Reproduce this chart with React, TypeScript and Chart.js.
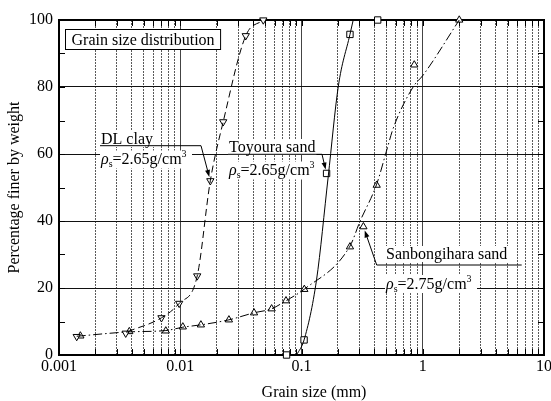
import React, { useEffect, useRef } from 'react';
import { Chart, registerables } from 'chart.js';

Chart.register(...registerables);

const FONT = "'Liberation Serif', 'Times New Roman', Times, serif";

// ---- data: markers ----
const dlClayX = [0.0014, 0.00355, 0.0070, 0.0098, 0.0138, 0.0177, 0.0226, 0.0347, 0.0484];
const dlClayY = [5.5, 6.5, 11.1, 15.4, 23.6, 52, 69.6, 95.3, 100];
const sanX = [0.0015, 0.0038, 0.0076, 0.0105, 0.0148, 0.0252, 0.0406, 0.0567, 0.0745, 0.1055, 0.251, 0.324, 0.417, 0.851, 2.0];
const sanY = [5.7, 7.0, 7.2, 8.4, 9.0, 10.5, 12.6, 13.8, 16.2, 19.6, 32.3, 38.3, 50.7, 86.6, 100];
const toyX = [0.0753, 0.105, 0.161, 0.251, 0.425];
const toyY = [0, 4.5, 54.2, 95.7, 100];

// ---- data: fitted curves ----
const dlCurveX = [0.0037, 0.0070, 0.0098, 0.0138, 0.0177, 0.0226, 0.0347, 0.0484];
const dlCurveY = [7.0, 11.1, 15.4, 23.6, 52, 69.6, 95.3, 100];
const sanCurveX = [0.0014, 0.0038, 0.0076, 0.0105, 0.0148, 0.0252, 0.0406, 0.0567, 0.0745, 0.105, 0.251, 0.303, 0.417, 0.505, 0.571, 0.836, 1.01, 2.0];
const sanCurveY = [5.6, 6.9, 7.3, 8.3, 9.0, 10.5, 12.6, 13.8, 16.2, 19.6, 32.5, 39.8, 51, 61.2, 67.7, 80.1, 83.6, 100];
const toyCurveX = [0.0912, 0.105, 0.133, 0.166, 0.201, 0.251, 0.267];
const toyCurveY = [0, 4.5, 22.4, 53.2, 80.1, 95.7, 100];

// ---- ticks ----
const xDecades = [0.001, 0.01, 0.1, 1, 10];
const xTickLabels = ['0.001', '0.01', '0.1', '1', '10'];
const yTickValues = [0, 20, 40, 60, 80, 100];
const yMinorTicks = [10, 30, 50, 70, 90];

const isDecade = (v: number) => Math.abs(Math.log10(v) - Math.round(Math.log10(v))) < 1e-6;
const xTickValues: number[] = [];
for (let d = 0; d < xDecades.length - 1; d++) {
  for (let m = 1; m <= 9; m++) xTickValues.push(Number((m * xDecades[d]).toPrecision(6)));
}
xTickValues.push(xDecades[xDecades.length - 1]);

const pts = (xs: number[], ys: number[]) => xs.map((v, i) => ({ x: v, y: ys[i] }));

type Seg = { t: string; italic?: boolean; size: number; dy?: number };
function drawRich(ctx: CanvasRenderingContext2D, segs: Seg[], x: number, y: number) {
  let cx = x;
  for (const s of segs) {
    ctx.font = `${s.italic ? 'italic ' : ''}${s.size}px ${FONT}`;
    ctx.fillText(s.t, cx, y + (s.dy || 0));
    cx += ctx.measureText(s.t).width;
  }
  return cx - x;
}
const rhoSegs = (val: string): Seg[] => [
  { t: 'ρ', italic: true, size: 16 },
  { t: 's', size: 10, dy: 3 },
  { t: '=' + val + 'g/cm', size: 16 },
  { t: '3', size: 10, dy: -7 },
];

const callouts = [
  { name: 'DL clay', rho: '2.65', textX: 101, nameBase: 143.5, rhoBase: 164, lineY: 145.7, lineX0: 100, lineX1: 201, target: [0.0177, 52] },
  { name: 'Toyoura sand', rho: '2.65', textX: 229, nameBase: 151.5, rhoBase: 175, lineY: 154.3, lineX0: 228, lineX1: 322, target: [0.161, 54.2] },
  { name: 'Sanbongihara sand', rho: '2.75', textX: 386, nameBase: 258.5, rhoBase: 288.5, lineY: 265, lineX0: 376.7, lineX1: 521.7, target: [0.324, 38.3], from0: true },
];

function arrow(ctx: CanvasRenderingContext2D, x0: number, y0: number, x1: number, y1: number) {
  const ang = Math.atan2(y1 - y0, x1 - x0);
  const len = 7, w = 2.5;
  ctx.beginPath();
  ctx.moveTo(x0, y0);
  ctx.lineTo(x1 - Math.cos(ang) * len * 0.8, y1 - Math.sin(ang) * len * 0.8);
  ctx.stroke();
  ctx.beginPath();
  ctx.moveTo(x1, y1);
  ctx.lineTo(x1 - Math.cos(ang) * len - Math.sin(ang) * w, y1 - Math.sin(ang) * len + Math.cos(ang) * w);
  ctx.lineTo(x1 - Math.cos(ang) * len + Math.sin(ang) * w, y1 - Math.sin(ang) * len - Math.cos(ang) * w);
  ctx.closePath();
  ctx.fill();
}

const decorPlugin = {
  id: 'decor',
  beforeDatasetsDraw(chart: any) {
    const { ctx, chartArea: a, scales } = chart;
    const xs = scales.x, ys = scales.y;
    ctx.save();
    ctx.fillStyle = '#000';
    ctx.strokeStyle = '#000';
    // inner ticks
    ctx.lineWidth = 1;
    ctx.beginPath();
    for (const v of xTickValues) {
      const px = Math.round(xs.getPixelForValue(v)) + 0.5;
      ctx.moveTo(px, a.bottom); ctx.lineTo(px, a.bottom - 6);
      ctx.moveTo(px, a.top); ctx.lineTo(px, a.top + 6);
    }
    for (const v of yMinorTicks.concat(yTickValues)) {
      const py = Math.round(ys.getPixelForValue(v)) + 0.5;
      ctx.moveTo(a.left, py); ctx.lineTo(a.left + 6, py);
      ctx.moveTo(a.right, py); ctx.lineTo(a.right - 6, py);
    }
    ctx.stroke();
    // frame
    ctx.lineWidth = 2;
    ctx.strokeRect(a.left, a.top, a.right - a.left, a.bottom - a.top);

    // title box
    ctx.font = `16px ${FONT}`;
    ctx.textBaseline = 'alphabetic';
    ctx.textAlign = 'left';
    const tw = ctx.measureText('Grain size distribution').width;
    ctx.fillStyle = '#fff';
    ctx.fillRect(65.5, 29.5, tw + 12, 20);
    ctx.lineWidth = 1;
    ctx.strokeRect(65.5, 29.5, tw + 12, 20);
    ctx.fillStyle = '#000';
    ctx.fillText('Grain size distribution', 71.5, 45);

    // callouts
    for (const c of callouts) {
      ctx.font = `16px ${FONT}`;
      const nw = ctx.measureText(c.name).width;
      ctx.fillStyle = '#fff';
      ctx.fillRect(c.textX - 1, c.nameBase - 12.5, nw + 2, 16);
      ctx.fillRect(c.textX - 1, c.rhoBase - 13.5, 92, 18);
      ctx.fillStyle = '#000';
      ctx.fillText(c.name, c.textX, c.nameBase);
      drawRich(ctx, rhoSegs(c.rho), c.textX, c.rhoBase);
      ctx.lineWidth = 1;
      ctx.beginPath();
      ctx.moveTo(c.lineX0, c.lineY); ctx.lineTo(c.lineX1, c.lineY);
      ctx.stroke();
      const tx = xs.getPixelForValue(c.target[0]);
      const ty = ys.getPixelForValue(c.target[1]);
      const sx = c.from0 ? c.lineX0 : c.lineX1;
      const ang = Math.atan2(ty - c.lineY, tx - sx);
      arrow(ctx, sx, c.lineY, tx - Math.cos(ang) * 4, ty - Math.sin(ang) * 4);
    }

    // axis titles
    ctx.font = `16px ${FONT}`;
    ctx.textAlign = 'center';
    ctx.textBaseline = 'alphabetic';
    ctx.fillText('Grain size (mm)', 314, 397);
    ctx.translate(15, (a.top + a.bottom) / 2);
    ctx.rotate(-Math.PI / 2);
    ctx.textBaseline = 'middle';
    ctx.fillText('Percentage finer by weight', 0, 0);
    ctx.restore();
  },
};

export default function App() {
  const ref = useRef<HTMLCanvasElement>(null);
  useEffect(() => {
    document.body.style.margin = '0';
    const canvas = ref.current!;
    const lineBase = { type: 'line' as const, borderColor: '#000', borderWidth: 1, pointRadius: 0, fill: false, cubicInterpolationMode: 'monotone' as const, showLine: true };
    const markBase = { type: 'line' as const, showLine: false, pointBackgroundColor: '#fff', pointBorderColor: '#000', pointBorderWidth: 1, clip: false as any };
    const chart = new Chart(canvas, {
      type: 'scatter',
      data: {
        datasets: [
          { ...lineBase, label: 'DL clay curve', data: pts(dlCurveX, dlCurveY), borderDash: [7, 4] },
          { ...lineBase, label: 'Sanbongihara curve', data: pts(sanCurveX, sanCurveY), borderDash: [9, 3, 1.5, 3] },
          { ...lineBase, label: 'Toyoura curve', data: pts(toyCurveX, toyCurveY) },
          { ...markBase, label: 'DL clay', data: pts(dlClayX, dlClayY), pointStyle: 'triangle', pointRadius: 4.2, pointRotation: 180 },
          { ...markBase, label: 'Sanbongihara sand', data: pts(sanX, sanY), pointStyle: 'triangle', pointRadius: 4.2 },
          { ...markBase, label: 'Toyoura sand', data: pts(toyX, toyY), pointStyle: 'rect', pointRadius: 4.5 },
        ] as any,
      },
      options: {
        animation: false,
        responsive: false,
        devicePixelRatio: 1,
        layout: { padding: { left: 0, right: 7, top: 20, bottom: 0 } },
        plugins: { legend: { display: false }, tooltip: { enabled: false } },
        scales: {
          x: {
            type: 'logarithmic',
            min: 0.001,
            max: 10,
            afterBuildTicks: (s: any) => { s.ticks = xTickValues.map((v) => ({ value: v, major: false })); },
            afterFit: (s: any) => { s.height = 46; s.paddingLeft = 0; s.paddingRight = 0; },
            ticks: {
              autoSkip: false, maxRotation: 0, minRotation: 0, padding: 2, color: '#000',
              font: { family: FONT, size: 16 },
              callback: (v: any) => {
                const i = xDecades.findIndex((d) => Math.abs(d - Number(v)) < d * 1e-6);
                return i >= 0 ? xTickLabels[i] : '';
              },
            },
            grid: {
              drawTicks: false,
              lineWidth: 1,
              color: (c: any) => {
                if (!c.tick) return '#000';
                const v = c.tick.value;
                if (v <= 0.001 * 1.0001 || v >= 10 * 0.9999) return 'rgba(0,0,0,0)';
                return isDecade(v) ? '#444' : '#5a5a5a';
              },
            },
            border: { display: false, dash: (c: any) => (c.tick && !isDecade(c.tick.value) ? [2, 1] : []) },
          } as any,
          y: {
            min: 0,
            max: 100,
            afterBuildTicks: (s: any) => { s.ticks = yTickValues.map((v) => ({ value: v })); },
            afterFit: (s: any) => { s.width = 59; },
            ticks: { padding: 6, color: '#000', font: { family: FONT, size: 16 } },
            grid: {
              drawTicks: false,
              lineWidth: 1,
              color: (c: any) => (c.tick && (c.tick.value === 0 || c.tick.value === 100) ? 'rgba(0,0,0,0)' : '#111'),
            },
            border: { display: false },
          } as any,
        },
      },
      plugins: [decorPlugin],
    });
    return () => chart.destroy();
  }, []);
  return (
    <div style={{ position: 'absolute', left: 0, top: 0, width: 551, height: 401, background: '#fff' }}>
      <canvas ref={ref} width={551} height={401} style={{ width: 551, height: 401, display: 'block' }} />
    </div>
  );
}
